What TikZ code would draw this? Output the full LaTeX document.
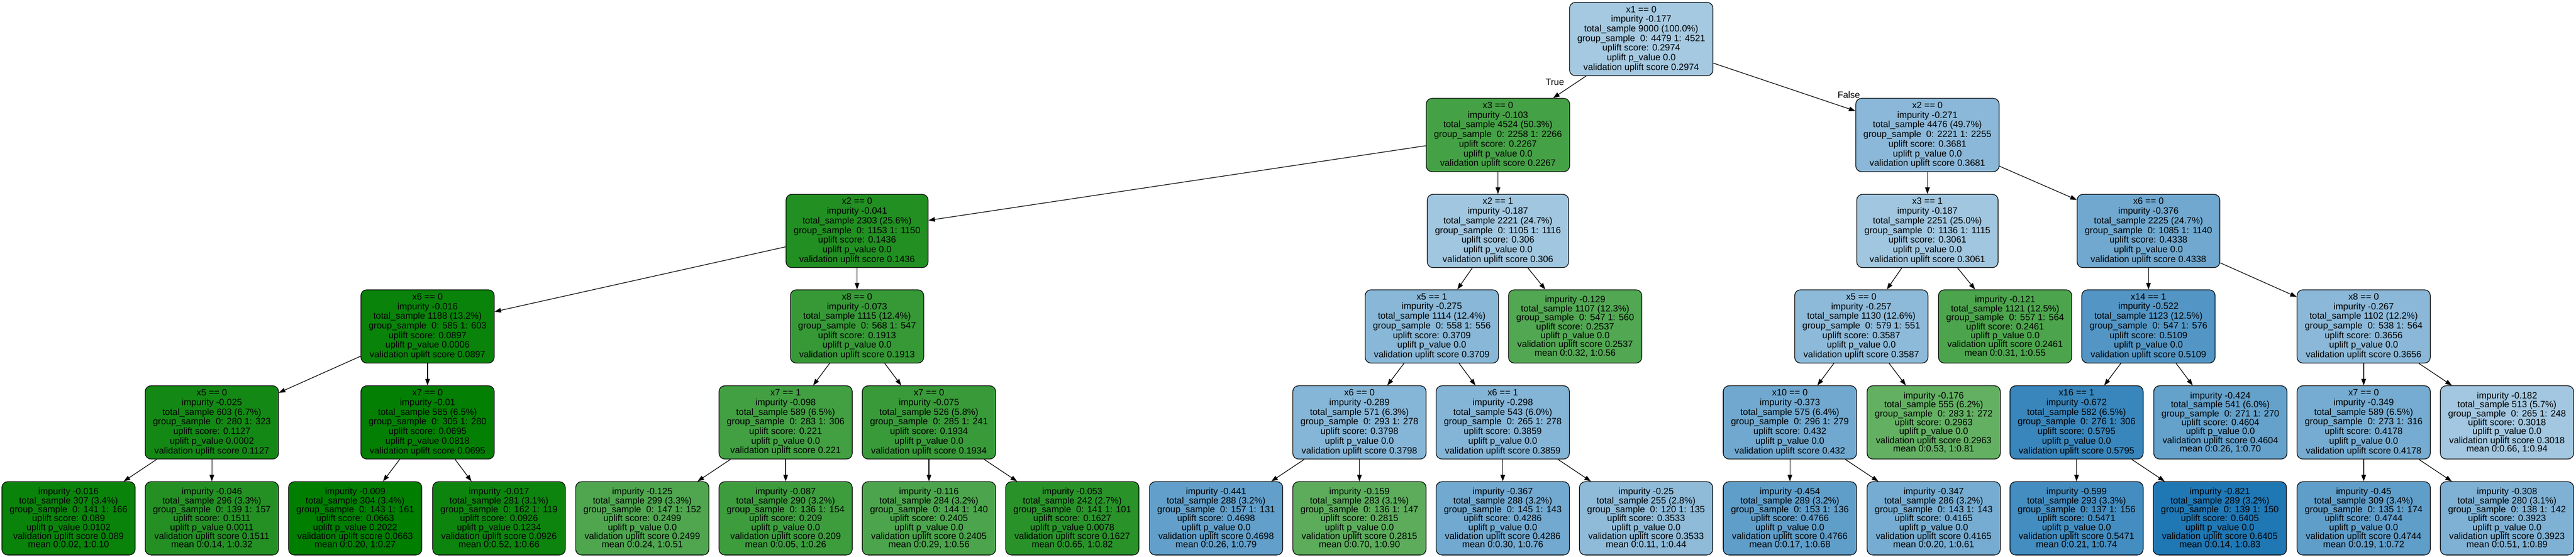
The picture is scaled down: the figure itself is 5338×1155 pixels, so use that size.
\documentclass[tikz,border=0pt]{standalone}
\usepackage{fontspec}
\setmainfont{Liberation Sans}
\usetikzlibrary{arrows.meta}
\definecolor{gbase}{RGB}{0,126,0}
\definecolor{bbase}{RGB}{31,119,180}
% #1 split, #2 impurity, #3 total, #4 pct, #5 g0, #6 g1, #7 uplift, #8 pvalue
\newcommand{\IntLabel}[8]{#1\\impurity #2\\total\_sample #3 (#4\%)\\group\_sample\ \ 0: #5 1: #6\\uplift score: #7\\uplift p\_value #8\\validation uplift score #7}
% #1 impurity, #2 total, #3 pct, #4 g0, #5 g1, #6 uplift, #7 pvalue, #8 mean0, #9 mean1
\newcommand{\LeafLabel}[9]{impurity #1\\total\_sample #2 (#3\%)\\group\_sample\ \ 0: #4 1: #5\\uplift score: #6\\uplift p\_value #7\\validation uplift score #6\\mean 0:#8, 1:#9}
\begin{document}
\begin{tikzpicture}[x=1pt,y=-1pt,
  box/.style={draw=black, line width=1.35pt, rounded corners=12pt, align=center,
    minimum height=152pt, inner xsep=16pt, inner ysep=2pt,
    font=\fontsize{18.9}{20}\selectfont, text=black},
  leafbox/.style={box, font=\fontsize{18.9}{17.15}\selectfont},
  edge/.style={line width=1.35pt, draw=black, -{Triangle[length=13.5pt,width=9.5pt]}},
  elab/.style={font=\fontsize{18.9}{20}\selectfont, inner sep=0pt}
]
\useasboundingbox (0,0) rectangle (5338,1155);

% row 0
\node[box, fill=bbase!40] (root) at (3401,81) {\IntLabel{x1 == 0}{-0.177}{9000}{100.0}{4479}{4521}{0.2974}{0.0}};
% row 1
\node[box, fill=gbase!73] (n1) at (3104,280) {\IntLabel{x3 == 0}{-0.103}{4524}{50.3}{2258}{2266}{0.2267}{0.0}};
\node[box, fill=bbase!52] (n2) at (3994,280) {\IntLabel{x2 == 0}{-0.271}{4476}{49.7}{2221}{2255}{0.3681}{0.0}};
% row 2
\node[box, fill=gbase!87] (n3) at (1776,479) {\IntLabel{x2 == 0}{-0.041}{2303}{25.6}{1153}{1150}{0.1436}{0.0}};
\node[box, fill=bbase!42] (n4) at (3104,479) {\IntLabel{x2 == 1}{-0.187}{2221}{24.7}{1105}{1116}{0.306}{0.0}};
\node[box, fill=bbase!42] (n5) at (3994,479) {\IntLabel{x3 == 1}{-0.187}{2251}{25.0}{1136}{1115}{0.3061}{0.0}};
\node[box, fill=bbase!64] (n6) at (4452,479) {\IntLabel{x6 == 0}{-0.376}{2225}{24.7}{1085}{1140}{0.4338}{0.0}};
% row 3
\node[box, fill=gbase!96] (n7) at (886,677) {\IntLabel{x6 == 0}{-0.016}{1188}{13.2}{585}{603}{0.0897}{0.0006}};
\node[box, fill=gbase!79] (n8) at (1776,677) {\IntLabel{x8 == 0}{-0.073}{1115}{12.4}{568}{547}{0.1913}{0.0}};
\node[box, fill=bbase!53] (n9) at (2967,677) {\IntLabel{x5 == 1}{-0.275}{1114}{12.4}{558}{556}{0.3709}{0.0}};
\node[leafbox, fill=gbase!68] (n10) at (3264,677) {\LeafLabel{-0.129}{1107}{12.3}{547}{560}{0.2537}{0.0}{0.32}{0.56}};
\node[box, fill=bbase!51] (n11) at (3857,677) {\IntLabel{x5 == 0}{-0.257}{1130}{12.6}{579}{551}{0.3587}{0.0}};
\node[leafbox, fill=gbase!70] (n12) at (4155,677) {\LeafLabel{-0.121}{1121}{12.5}{557}{564}{0.2461}{0.0}{0.31}{0.55}};
\node[box, fill=bbase!77] (n13) at (4452,677) {\IntLabel{x14 == 1}{-0.522}{1123}{12.5}{547}{576}{0.5109}{0.0}};
\node[box, fill=bbase!52] (n14) at (4898,677) {\IntLabel{x8 == 0}{-0.267}{1102}{12.2}{538}{564}{0.3656}{0.0}};
% row 4
\node[box, fill=gbase!92] (n15) at (439,876) {\IntLabel{x5 == 0}{-0.025}{603}{6.7}{280}{323}{0.1127}{0.0002}};
\node[box, fill=gbase!99] (n16) at (886,876) {\IntLabel{x7 == 0}{-0.01}{585}{6.5}{305}{280}{0.0695}{0.0818}};
\node[box, fill=gbase!74] (n17) at (1628,876) {\IntLabel{x7 == 1}{-0.098}{589}{6.5}{283}{306}{0.221}{0.0}};
\node[box, fill=gbase!78] (n18) at (1925,876) {\IntLabel{x7 == 0}{-0.075}{526}{5.8}{285}{241}{0.1934}{0.0}};
\node[box, fill=bbase!54] (n19) at (2817,876) {\IntLabel{x6 == 0}{-0.289}{571}{6.3}{293}{278}{0.3798}{0.0}};
\node[box, fill=bbase!55] (n20) at (3114,876) {\IntLabel{x6 == 1}{-0.298}{543}{6.0}{265}{278}{0.3859}{0.0}};
\node[box, fill=bbase!64] (n21) at (3709,876) {\IntLabel{x10 == 0}{-0.373}{575}{6.4}{296}{279}{0.432}{0.0}};
\node[leafbox, fill=gbase!61] (n22) at (4007,876) {\LeafLabel{-0.176}{555}{6.2}{283}{272}{0.2963}{0.0}{0.53}{0.81}};
\node[box, fill=bbase!89] (n23) at (4303,876) {\IntLabel{x16 == 1}{-0.672}{582}{6.5}{276}{306}{0.5795}{0.0}};
\node[leafbox, fill=bbase!69] (n24) at (4601,876) {\LeafLabel{-0.424}{541}{6.0}{271}{270}{0.4604}{0.0}{0.26}{0.70}};
\node[box, fill=bbase!61] (n25) at (4898,876) {\IntLabel{x7 == 0}{-0.349}{589}{6.5}{273}{316}{0.4178}{0.0}};
\node[leafbox, fill=bbase!41] (n26) at (5195,876) {\LeafLabel{-0.182}{513}{5.7}{265}{248}{0.3018}{0.0}{0.66}{0.94}};
% row 5 (leaves)
\node[leafbox, fill=gbase!96] (l1) at (142,1075) {\LeafLabel{-0.016}{307}{3.4}{141}{166}{0.089}{0.0102}{0.02}{0.10}};
\node[leafbox, fill=gbase!86] (l2) at (439,1075) {\LeafLabel{-0.046}{296}{3.3}{139}{157}{0.1511}{0.0011}{0.14}{0.32}};
\node[leafbox, fill=gbase!100] (l3) at (736,1075) {\LeafLabel{-0.009}{304}{3.4}{143}{161}{0.0663}{0.2022}{0.20}{0.27}};
\node[leafbox, fill=gbase!95] (l4) at (1034,1075) {\LeafLabel{-0.017}{281}{3.1}{162}{119}{0.0926}{0.1234}{0.52}{0.66}};
\node[leafbox, fill=gbase!69] (l5) at (1331,1075) {\LeafLabel{-0.125}{299}{3.3}{147}{152}{0.2499}{0.0}{0.24}{0.51}};
\node[leafbox, fill=gbase!76] (l6) at (1628,1075) {\LeafLabel{-0.087}{290}{3.2}{136}{154}{0.209}{0.0}{0.05}{0.26}};
\node[leafbox, fill=gbase!70] (l7) at (1925,1075) {\LeafLabel{-0.116}{284}{3.2}{144}{140}{0.2405}{0.0}{0.29}{0.56}};
\node[leafbox, fill=gbase!84] (l8) at (2222,1075) {\LeafLabel{-0.053}{242}{2.7}{141}{101}{0.1627}{0.0078}{0.65}{0.82}};
\node[leafbox, fill=bbase!70] (l9) at (2520,1075) {\LeafLabel{-0.441}{288}{3.2}{157}{131}{0.4698}{0.0}{0.26}{0.79}};
\node[leafbox, fill=gbase!64] (l10) at (2817,1075) {\LeafLabel{-0.159}{283}{3.1}{136}{147}{0.2815}{0.0}{0.70}{0.90}};
\node[leafbox, fill=bbase!63] (l11) at (3114,1075) {\LeafLabel{-0.367}{288}{3.2}{145}{143}{0.4286}{0.0}{0.30}{0.76}};
\node[leafbox, fill=bbase!50] (l12) at (3411,1075) {\LeafLabel{-0.25}{255}{2.8}{120}{135}{0.3533}{0.0}{0.11}{0.44}};
\node[leafbox, fill=bbase!71] (l13) at (3709,1075) {\LeafLabel{-0.454}{289}{3.2}{153}{136}{0.4766}{0.0}{0.17}{0.68}};
\node[leafbox, fill=bbase!61] (l14) at (4007,1075) {\LeafLabel{-0.347}{286}{3.2}{143}{143}{0.4165}{0.0}{0.20}{0.61}};
\node[leafbox, fill=bbase!84] (l15) at (4303,1075) {\LeafLabel{-0.599}{293}{3.3}{137}{156}{0.5471}{0.0}{0.21}{0.74}};
\node[leafbox, fill=bbase!100] (l16) at (4600,1075) {\LeafLabel{-0.821}{289}{3.2}{139}{150}{0.6405}{0.0}{0.14}{0.83}};
\node[leafbox, fill=bbase!71] (l17) at (4898,1075) {\LeafLabel{-0.45}{309}{3.4}{135}{174}{0.4744}{0.0}{0.19}{0.72}};
\node[leafbox, fill=bbase!57] (l18) at (5195,1075) {\LeafLabel{-0.308}{280}{3.1}{138}{142}{0.3923}{0.0}{0.51}{0.89}};

% edges
\draw[edge] (root) -- (n1);
\draw[edge] (root) -- (n2);
\node[elab] (tlab) at (3222,170) {True};
\node[elab] (flab) at (3831,197) {False};
\draw[edge] (n1) -- (n3);
\draw[edge] (n1) -- (n4);
\draw[edge] (n2) -- (n5);
\draw[edge] (n2) -- (n6);
\draw[edge] (n3) -- (n7);
\draw[edge] (n3) -- (n8);
\draw[edge] (n4) -- (n9);
\draw[edge] (n4) -- (n10);
\draw[edge] (n5) -- (n11);
\draw[edge] (n5) -- (n12);
\draw[edge] (n6) -- (n13);
\draw[edge] (n6) -- (n14);
\draw[edge] (n7) -- (n15);
\draw[edge] (n7) -- (n16);
\draw[edge] (n8) -- (n17);
\draw[edge] (n8) -- (n18);
\draw[edge] (n9) -- (n19);
\draw[edge] (n9) -- (n20);
\draw[edge] (n11) -- (n21);
\draw[edge] (n11) -- (n22);
\draw[edge] (n13) -- (n23);
\draw[edge] (n13) -- (n24);
\draw[edge] (n14) -- (n25);
\draw[edge] (n14) -- (n26);
\draw[edge] (n15) -- (l1);
\draw[edge] (n15) -- (l2);
\draw[edge] (n16) -- (l3);
\draw[edge] (n16) -- (l4);
\draw[edge] (n17) -- (l5);
\draw[edge] (n17) -- (l6);
\draw[edge] (n18) -- (l7);
\draw[edge] (n18) -- (l8);
\draw[edge] (n19) -- (l9);
\draw[edge] (n19) -- (l10);
\draw[edge] (n20) -- (l11);
\draw[edge] (n20) -- (l12);
\draw[edge] (n21) -- (l13);
\draw[edge] (n21) -- (l14);
\draw[edge] (n23) -- (l15);
\draw[edge] (n23) -- (l16);
\draw[edge] (n25) -- (l17);
\draw[edge] (n25) -- (l18);
\end{tikzpicture}
\end{document}
